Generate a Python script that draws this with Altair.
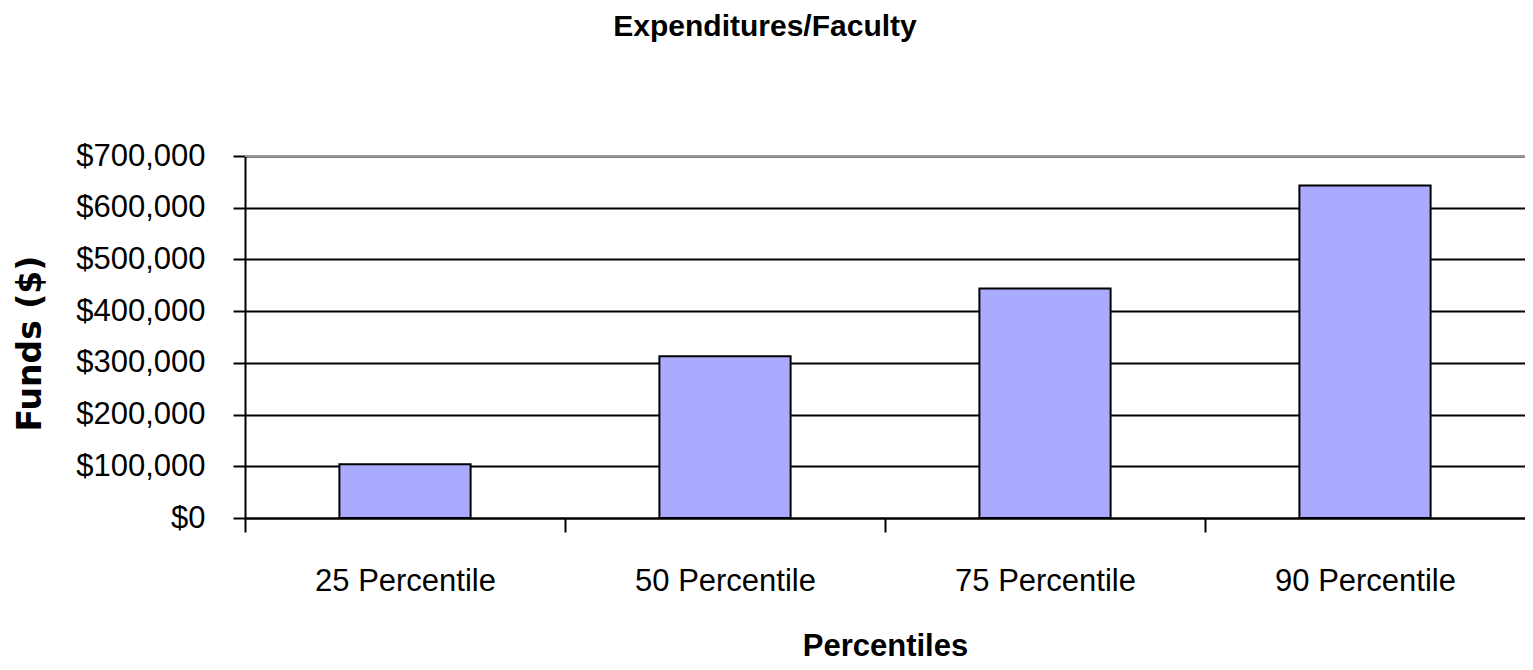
import altair as alt
import pandas as pd

categories = ["25 Percentile", "50 Percentile", "75 Percentile", "90 Percentile"]
funds = [104000, 313000, 444000, 643000]
y_ticks = [0, 100000, 200000, 300000, 400000, 500000, 600000, 700000]
y_max = 700000

df = pd.DataFrame({"cat": categories, "funds": funds})
top_df = pd.DataFrame({"funds": [y_max]})

FONT = "Liberation Sans, Arial, sans-serif"

y_enc = alt.Y("funds:Q", scale=alt.Scale(domain=[0, y_max], nice=False),
              axis=alt.Axis(title="Funds ($)", values=y_ticks, format="$,.0f",
                            labelFont=FONT, labelFontSize=31, labelColor="black",
                            labelPadding=28, tickSize=12, tickColor="black", tickWidth=2,
                            domainColor="black", domainWidth=2,
                            grid=True, gridColor="black", gridWidth=2,
                            titleFont="DejaVu Sans", titleFontSize=33, titleFontWeight="bold",
                            titleColor="black", titleAngle=270, titleBaseline="alphabetic",
                            titleAlign="center", titleX=-205, titleY=187))

bars = alt.Chart(df).mark_bar(
    color="#AAAAFF", stroke="black", strokeWidth=2
).encode(
    x=alt.X("cat:N", sort=categories,
            scale=alt.Scale(paddingInner=0.59, paddingOuter=0.295),
            axis=alt.Axis(title="Percentiles", labelAngle=0, labelFont=FONT,
                          labelFontSize=31, labelColor="black", labelPadding=34,
                          labelLimit=400,
                          tickSize=14, tickColor="black", tickWidth=2,
                          tickOffset=-160, labelOffset=160,
                          domainColor="black", domainWidth=2,
                          titleFont=FONT, titleFontSize=31, titleFontWeight="bold",
                          titleColor="black", titleBaseline="alphabetic",
                          titleY=137, grid=False)),
    y=y_enc,
)

top_line = alt.Chart(top_df).mark_rule(color="#999999", strokeWidth=2).encode(y=y_enc)

chart = alt.layer(bars, top_line).properties(
    width=1280, height=362,
    autosize=alt.AutoSizeParams(type="none"),
    padding={"left": 237, "top": 148, "right": 0, "bottom": 144},
    title=alt.TitleParams("Expenditures/Faculty", font=FONT, fontSize=30,
                          fontWeight="bold", color="black", anchor="middle",
                          dx=-120, offset=98),
).configure_view(stroke=None).configure(background="white")

chart.save("out.html", embed_options={"renderer": "svg", "actions": False})
